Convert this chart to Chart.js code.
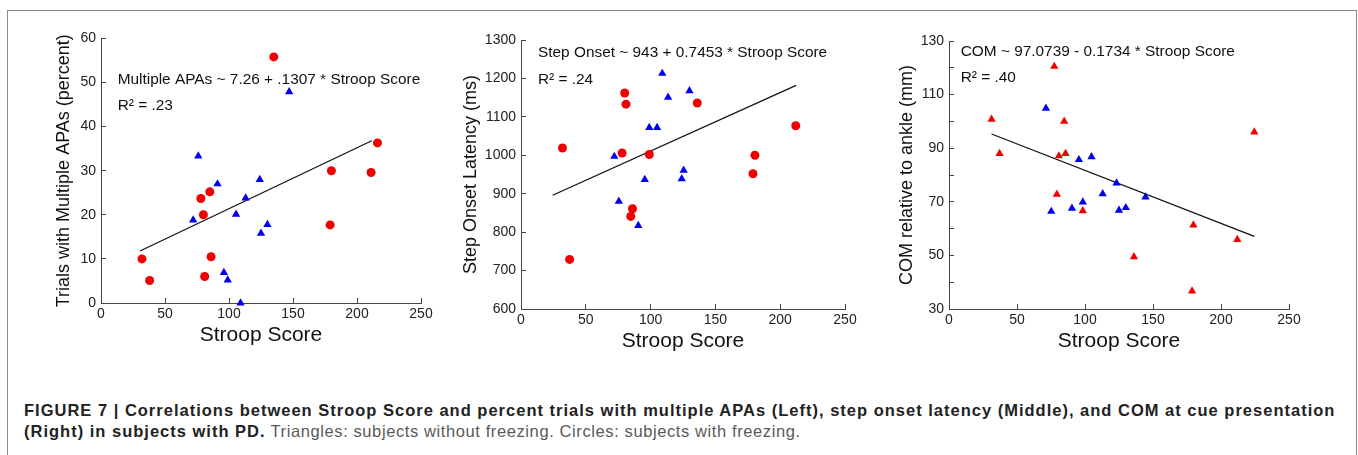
<!DOCTYPE html>
<html>
<head>
<meta charset="utf-8">
<script src="https://cdn.jsdelivr.net/npm/chart.js@4.4.1/dist/chart.umd.min.js"></script>
<style>
  body { margin: 0; background: #fff; width: 1358px; height: 455px; overflow: hidden; position: relative; }
  .frame { position: absolute; left: 7px; top: 10px; width: 1348px; height: 470px; border: 1px solid #8a8a8a; }
  canvas { position: absolute; top: 20px; }
  .caption { position: absolute; left: 24px; top: 400px; font: 16.5px 'Liberation Sans', Arial, sans-serif;
             line-height: 21px; color: #5a5a5a; letter-spacing: 0.6px; white-space: nowrap; }
  .caption b { color: #222; letter-spacing: 1.0px; }
</style>
</head>
<body>
<div class="frame"></div>
<canvas id="chart-apa" width="420" height="340" style="left:21px"></canvas>
<canvas id="chart-step" width="424" height="340" style="left:441px"></canvas>
<canvas id="chart-com" width="440" height="340" style="left:869px"></canvas>
<div class="caption">
  <b>FIGURE 7 | Correlations between Stroop Score and percent trials with multiple APAs (Left), step onset latency (Middle), and COM at cue presentation</b><br>
  <b>(Right) in subjects with PD.</b> Triangles: subjects without freezing. Circles: subjects with freezing.
</div>
<script>
// Panel izquierdo: % de ensayos con APAs múltiples
const apaStroopFreeze   = [32, 38, 78, 85, 80, 86, 81, 135, 180, 179, 211, 216];
const apaFreeze         = [10.0, 5.1, 23.7, 25.2, 20.0, 10.5, 6.0, 55.8, 30.0, 17.7, 29.6, 36.3];
const apaStroopNoFreeze = [76, 72, 91, 105.5, 113, 124, 125, 130, 147, 96, 99, 109];
const apaNoFreeze       = [33.3, 18.8, 27.0, 20.1, 23.8, 28.0, 15.8, 17.8, 47.9, 6.9, 5.2, 0];
const apaFitX = [30.5, 211.5];
const apaFitY = [11.8, 36.8];
const apaYTicks = [0, 60, 10];

// Panel central: latencia de inicio del paso
const stepStroopFreeze   = [32, 37.5, 80, 81, 78, 99, 86, 84.7, 136, 180.5, 179, 212];
const stepFreeze         = [1019, 729, 1162, 1133, 1006, 1002, 861, 841, 1136, 1000, 952, 1077];
const stepStroopNoFreeze = [109, 130, 113.5, 99, 105, 72, 95.5, 125.5, 124, 75.5, 90.5];
const stepNoFreeze       = [1213, 1168, 1151, 1072, 1072, 997, 937, 961, 939, 880, 817];
const stepFitX = [24.4, 212.3];
const stepFitY = [896, 1182];
const stepYTicks = [600, 1300, 100];

// Panel derecho: COM respecto al tobillo
const comStroopFreeze   = [31.3, 37.2, 77.4, 84.7, 80.8, 85.7, 79.3, 98.4, 136, 179.7, 178.7, 212, 224.5];
const comFreeze         = [100.8, 88, 120.5, 100, 87.1, 88, 72.8, 66.6, 49.5, 61.3, 36.7, 55.9, 96];
const comStroopNoFreeze = [71.3, 95.5, 104.8, 123.2, 113, 144.5, 75.2, 90.4, 98.4, 125, 130];
const comNoFreeze       = [104.9, 85.7, 86.8, 77, 73, 71.8, 66.4, 67.6, 69.9, 66.8, 67.8];
const comFitX = [31.3, 224.5];
const comFitY = [95.3, 57.1];
const comYTicks = [30, 130, 10];

const xTicks = [0, 250, 50];

const RED  = '#f00000';
const BLUE = '#0000ee';
const AXIS = '#444';

Chart.defaults.font.family = "'Liberation Sans', Arial, sans-serif";
Chart.defaults.color = '#222';

/** Convierte dos arrays paralelos en puntos {x, y}. */
const pts = (xs, ys) => xs.map((x, i) => ({ x, y: ys[i] }));

/** Dibuja las ecuaciones de regresión en coordenadas de datos. */
const annotPlugin = {
  id: 'annot',
  afterDraw(chart) {
    const opts = chart.options.plugins.annot;
    if (!opts) return;
    const { ctx, scales } = chart;
    ctx.save();
    ctx.font = "15.4px 'Liberation Sans', Arial, sans-serif";
    ctx.fillStyle = '#111';
    ctx.textBaseline = 'middle';
    opts.lines.forEach((l) => {
      ctx.fillText(l.text, scales.x.getPixelForValue(l.x), scales.y.getPixelForValue(l.y));
    });
    ctx.restore();
  },
};

/**
 * Crea un panel de dispersión con su recta de ajuste.
 */
function renderPanel(id, cfg) {
  const ctx = document.getElementById(id);
  return new Chart(ctx, {
    type: 'scatter',
    data: {
      datasets: [
        {
          data: pts(cfg.freezeX, cfg.freezeY),
          pointStyle: cfg.freezeStyle,
          backgroundColor: RED, borderColor: RED, borderWidth: 0,
          pointRadius: cfg.freezeStyle === 'circle' ? 4.5 : 4.8,
          clip: false,
        },
        {
          data: pts(cfg.noFreezeX, cfg.noFreezeY),
          pointStyle: 'triangle',
          backgroundColor: BLUE, borderColor: BLUE, borderWidth: 0,
          pointRadius: 4.8,
          clip: false,
        },
        {
          type: 'line',
          data: pts(cfg.fitX, cfg.fitY),
          borderColor: '#111', borderWidth: 1.3,
          pointRadius: 0, fill: false,
        },
      ],
    },
    options: {
      responsive: false,
      animation: false,
      events: [],
      layout: { padding: { top: cfg.padTop, right: 20, left: 0, bottom: 0 } },
      plugins: {
        legend: { display: false },
        tooltip: { enabled: false },
        annot: { lines: cfg.annot },
      },
      scales: {
        x: {
          type: 'linear', min: xTicks[0], max: xTicks[1],
          ticks: { stepSize: xTicks[2], font: { size: 14 }, padding: 8, color: '#222', maxRotation: 0 },
          grid: { drawOnChartArea: false, tickLength: -5, color: AXIS },
          border: { color: AXIS, width: 1 },
          title: { display: true, text: 'Stroop Score', font: { size: 21 }, color: '#111',
                   padding: { top: 0, bottom: cfg.xTitlePad } },
          afterFit: (s) => { s.height = cfg.xHeight; },
        },
        y: {
          type: 'linear', min: cfg.yTicks[0], max: cfg.yTicks[1],
          ticks: {
            stepSize: cfg.yTicks[2], font: { size: 14 }, padding: 10, color: '#222', autoSkip: false,
            callback: cfg.yLabel || ((v) => v),
          },
          grid: { drawOnChartArea: false, tickLength: -5, color: AXIS },
          border: { color: AXIS, width: 1 },
          title: { display: true, text: cfg.yTitle, font: { size: 18 }, color: '#111',
                   padding: { top: cfg.yTitlePad, bottom: 0 } },
          afterFit: (s) => { s.width = 80; },
        },
      },
    },
    plugins: [annotPlugin],
  });
}

renderPanel('chart-apa', {
  freezeX: apaStroopFreeze, freezeY: apaFreeze, freezeStyle: 'circle',
  noFreezeX: apaStroopNoFreeze, noFreezeY: apaNoFreeze,
  fitX: apaFitX, fitY: apaFitY, yTicks: apaYTicks,
  yTitle: 'Trials with Multiple APAs (percent)',
  padTop: 15, xHeight: 57, xTitlePad: 12, yTitlePad: 32.7,
  annot: [
    { text: 'Multiple APAs ~ 7.26 + .1307 * Stroop Score', x: 13.0, y: 50.7 },
    { text: 'R² = .23', x: 13.0, y: 44.8 },
  ],
});

renderPanel('chart-step', {
  freezeX: stepStroopFreeze, freezeY: stepFreeze, freezeStyle: 'circle',
  noFreezeX: stepStroopNoFreeze, noFreezeY: stepNoFreeze,
  fitX: stepFitX, fitY: stepFitY, yTicks: stepYTicks,
  yTitle: 'Step Onset Latency (ms)',
  padTop: 20, xHeight: 51, xTitlePad: 6, yTitlePad: 19.7,
  annot: [
    { text: 'Step Onset ~ 943 + 0.7453 * Stroop Score', x: 13.1, y: 1266 },
    { text: 'R² = .24', x: 13.1, y: 1196 },
  ],
});

renderPanel('chart-com', {
  freezeX: comStroopFreeze, freezeY: comFreeze, freezeStyle: 'triangle',
  noFreezeX: comStroopNoFreeze, noFreezeY: comNoFreeze,
  fitX: comFitX, fitY: comFitY, yTicks: comYTicks,
  yTitle: 'COM relative to ankle (mm)',
  padTop: 21, xHeight: 51, xTitlePad: 6, yTitlePad: 27.2,
  yLabel: (v) => (v % 20 === 10 ? v : ''),
  annot: [
    { text: 'COM ~ 97.0739 - 0.1734 * Stroop Score', x: 8.6, y: 125.9 },
    { text: 'R² = .40', x: 8.6, y: 116.2 },
  ],
});
</script>
</body>
</html>
